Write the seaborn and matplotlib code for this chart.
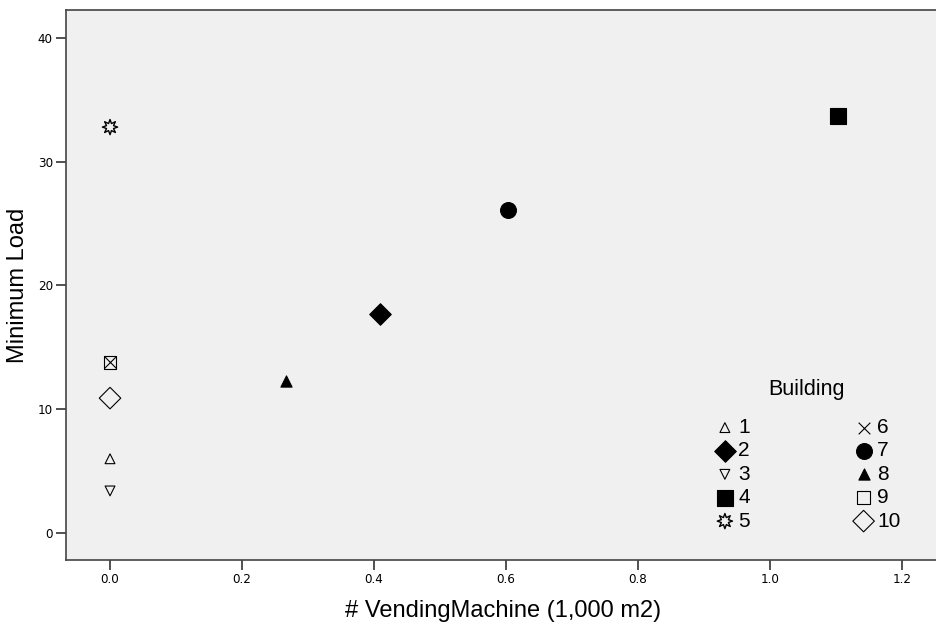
import matplotlib
matplotlib.use("Agg")
import matplotlib.pyplot as plt
import seaborn as sns
import pandas as pd

buildings = ["1", "2", "3", "4", "5", "6", "7", "8", "9", "10"]
vending = [0.0, 0.409, 0.0, 1.103, 0.0, 0.0, 0.603, 0.267, 0.0, 0.0]
min_load = [6.0, 17.7, 3.4, 33.7, 32.8, 13.8, 26.1, 12.3, 13.8, 10.9]

xticks = [0.0, 0.2, 0.4, 0.6, 0.8, 1.0, 1.2]
yticks = [0, 10, 20, 30, 40]

df = pd.DataFrame({"Building": buildings, "x": vending, "y": min_load})

styles = {
    "1": dict(marker="^", s=50, fc="none", lw=0.8),
    "2": dict(marker="D", s=120, fc="black", lw=0.8),
    "3": dict(marker="v", s=50, fc="none", lw=0.8),
    "4": dict(marker="s", s=120, fc="black", lw=0.8),
    "5": dict(marker=(8, 1, 0), s=120, fc="none", lw=1.0),
    "6": dict(marker="x", s=70, fc="black", lw=0.8),
    "7": dict(marker="o", s=130, fc="black", lw=0.8),
    "8": dict(marker="^", s=65, fc="black", lw=0.8),
    "9": dict(marker="s", s=85, fc="none", lw=0.8),
    "10": dict(marker="D", s=120, fc="none", lw=0.8),
}

sns.set_style("ticks")
plt.rcParams["font.family"] = ["Liberation Sans", "DejaVu Sans"]
plt.rcParams["text.color"] = "black"
plt.rcParams["axes.labelcolor"] = "black"
plt.rcParams["xtick.color"] = "#333333"
plt.rcParams["ytick.color"] = "#333333"
plt.rcParams["xtick.labelcolor"] = "black"
plt.rcParams["ytick.labelcolor"] = "black"

fig = plt.figure(figsize=(9.36, 6.24), dpi=100)
ax = fig.add_axes([66 / 936, 1 - 560 / 624, (940 - 66) / 936, (560 - 10) / 624])
ax.set_facecolor("#f0f0f0")

for b in buildings:
    st = styles[b]
    sub = df[df["Building"] == b]
    if st["marker"] == "x":
        sns.scatterplot(data=sub, x="x", y="y", ax=ax, marker="x", s=st["s"],
                        color="black", linewidths=st["lw"], label=b)
    else:
        sns.scatterplot(data=sub, x="x", y="y", ax=ax, marker=st["marker"], s=st["s"],
                        facecolor=st["fc"], edgecolor="black", linewidth=st["lw"], label=b)

ax.set_xlim(-0.0667, 1.2576)
ax.set_ylim(-2.18, 42.26)
ax.set_xticks(xticks)
ax.set_xticklabels([f"{v:.1f}" for v in xticks], fontsize=9.5,
                   family=["DejaVu Sans"], fontstretch="condensed")
ax.set_yticks(yticks)
ax.set_yticklabels([str(v) for v in yticks], fontsize=9.5,
                   family=["DejaVu Sans"], fontstretch="condensed")
ax.tick_params(direction="out", length=7, width=1.2, pad=2.5)
for sp in ax.spines.values():
    sp.set_color("#444444")
    sp.set_linewidth(1.2)
    sp.set_visible(True)

ax.set_xlabel("# VendingMachine (1,000 m2)", fontsize=17, labelpad=10)
ax.set_ylabel("Minimum Load", fontsize=17, labelpad=6)

leg = ax.legend(ncol=2, title="Building", frameon=False, fontsize=15,
                title_fontsize=15.5, loc="lower right", bbox_to_anchor=(0.9715, 0.027),
                columnspacing=4.85, handletextpad=0.05, labelspacing=0.21,
                handlelength=1.2, borderaxespad=0.3)
leg._legend_box.sep = 13

fig.savefig("out.png", dpi=100, facecolor="white")
